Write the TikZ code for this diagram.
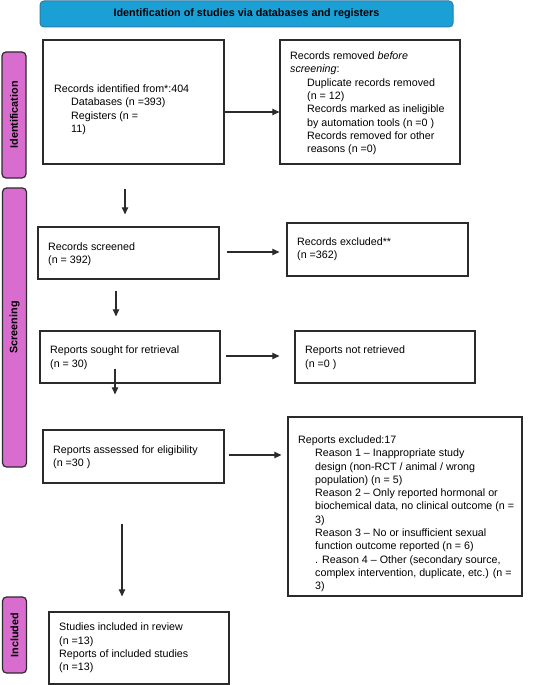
\documentclass[tikz,border=0pt]{standalone}
\usepackage{fontspec}
\setmainfont{Liberation Sans}
\usetikzlibrary{arrows.meta,positioning}
\definecolor{prhead}{HTML}{1BA0D6}
\definecolor{prheadline}{HTML}{2A7CA6}
\definecolor{prband}{HTML}{D86DCF}
\definecolor{prink}{HTML}{2B2B2B}
\tikzset{
  stage/.style={draw=prink, line width=1.3pt, fill=white, inner sep=0pt},
  txt/.style={anchor=west, align=left, inner sep=0pt, font=\fontsize{10.7}{13.3}\selectfont},
  band/.style={draw=prink, line width=1.2pt, fill=prband, rounded corners=4pt, minimum width=24pt, inner sep=0pt},
  bandlbl/.style={rotate=90, font=\fontsize{10.8}{12}\selectfont\bfseries},
  arr/.style={-{Triangle[length=7pt,width=6.5pt]}, line width=1.1pt, color=prink},
}
\newcommand{\ind}{\hspace*{17pt}}

\begin{document}
\begin{tikzpicture}[x=1pt,y=-1pt]
  \useasboundingbox (0,0) rectangle (546,685);
  % header
  \node[draw=prheadline, line width=1pt, fill=prhead, rounded corners=4pt, minimum width=413pt, minimum height=26pt, font=\fontsize{10.8}{12}\selectfont\bfseries] (head) at (246.5,14) {Identification of studies via databases and registers};
  % side bands
  \node[band, minimum height=126pt] (bident) at (14,115) {};
  \node[bandlbl] (lident) at (bident.center) {Identification};
  \node[band, minimum height=279pt] (bscreen) at (14.5,327.5) {};
  \node[bandlbl] (lscreen) at (bscreen.center) {Screening};
  \node[band, minimum height=76pt] (bincl) at (14.5,635) {};
  \node[bandlbl] (lincl) at (bincl.center) {Included};
  % boxes
  \node[stage, minimum width=181pt, minimum height=124pt] (ident) at (133.5,102) {};
  \node[stage, minimum width=180pt, minimum height=124pt] (removed) at (370,102) {};
  \node[stage, minimum width=181pt, minimum height=52pt] (screened) at (128.5,253) {};
  \node[stage, minimum width=181pt, minimum height=53pt] (excluded) at (377.5,249.5) {};
  \node[stage, minimum width=180pt, minimum height=52pt] (sought) at (130,357) {};
  \node[stage, minimum width=180pt, minimum height=52pt] (notret) at (385,357) {};
  \node[stage, minimum width=181pt, minimum height=53pt] (assessed) at (133.5,456.5) {};
  \node[stage, minimum width=234pt, minimum height=179pt] (rexcl) at (405,506.5) {};
  \node[stage, minimum width=180pt, minimum height=72pt] (included) at (139,648) {};
  % texts
  \node[txt] (identT) at (54,109.7) {Records identified from*:404\\\ind Databases (n =393)\\\ind Registers (n =\\\ind 11)};
  \node[txt] (removedT) at (290,103.3) {Records removed \emph{before}\\\emph{screening}:\\\ind Duplicate records removed\\\ind (n = 12)\\\ind Records marked as ineligible\\\ind by automation tools (n =0 )\\\ind Records removed for other\\\ind reasons (n =0)};
  \node[txt] (screenedT) at (48,254) {Records screened\\(n = 392)};
  \node[txt] (excludedT) at (297,249.3) {Records excluded**\\(n =362)};
  \node[txt] (soughtT) at (50,357.7) {Reports sought for retrieval\\(n = 30)};
  \node[txt] (notretT) at (305,357.7) {Reports not retrieved\\(n =0 )};
  \node[txt] (assessedT) at (53,457) {Reports assessed for eligibility\\(n =30 )};
  \node[txt] (rexclT) at (298,513.8) {Reports excluded:17\\\ind Reason 1 -- Inappropriate study\\\ind design (non-RCT / animal / wrong\\\ind population) (n = 5)\\\ind Reason 2 -- Only reported hormonal or\\\ind biochemical data, no clinical outcome (n =\\\ind 3)\\\ind Reason 3 -- No or insufficient sexual\\\ind function outcome reported (n = 6)\\\ind . Reason 4 -- Other (secondary source,\\\ind complex intervention, duplicate, etc.) (n =\\\ind 3)};
  \node[txt] (includedT) at (59,648) {Studies included in review\\(n =13)\\Reports of included studies\\(n =13)};
  % arrows
  \draw[arr] ([yshift=-10pt]ident.east) -- ([yshift=-10pt]removed.west);
  \draw[arr] ([xshift=7pt,yshift=1pt]screened.east) -- ([xshift=-7pt,yshift=-2.5pt]excluded.west);
  \draw[arr] ([xshift=5pt,yshift=1pt]sought.east) -- ([xshift=-15pt,yshift=1pt]notret.west);
  \draw[arr] ([xshift=4pt,yshift=1.5pt]assessed.east) -- ([xshift=-6pt,yshift=51.5pt]rexcl.west);
  \draw[arr] ([xshift=-8.5pt,yshift=-24pt]ident.south) -- ([xshift=-3.5pt,yshift=12pt]screened.north);
  \draw[arr] ([xshift=-12.5pt,yshift=-11pt]screened.south) -- ([xshift=-14pt,yshift=14pt]sought.north);
  \draw[arr] ([xshift=-15pt,yshift=15pt]sought.south) -- ([xshift=-18.5pt,yshift=35pt]assessed.north);
  \draw[arr] ([xshift=-11.5pt,yshift=-40pt]assessed.south) -- ([xshift=-17pt,yshift=15pt]included.north);
\end{tikzpicture}
\end{document}
